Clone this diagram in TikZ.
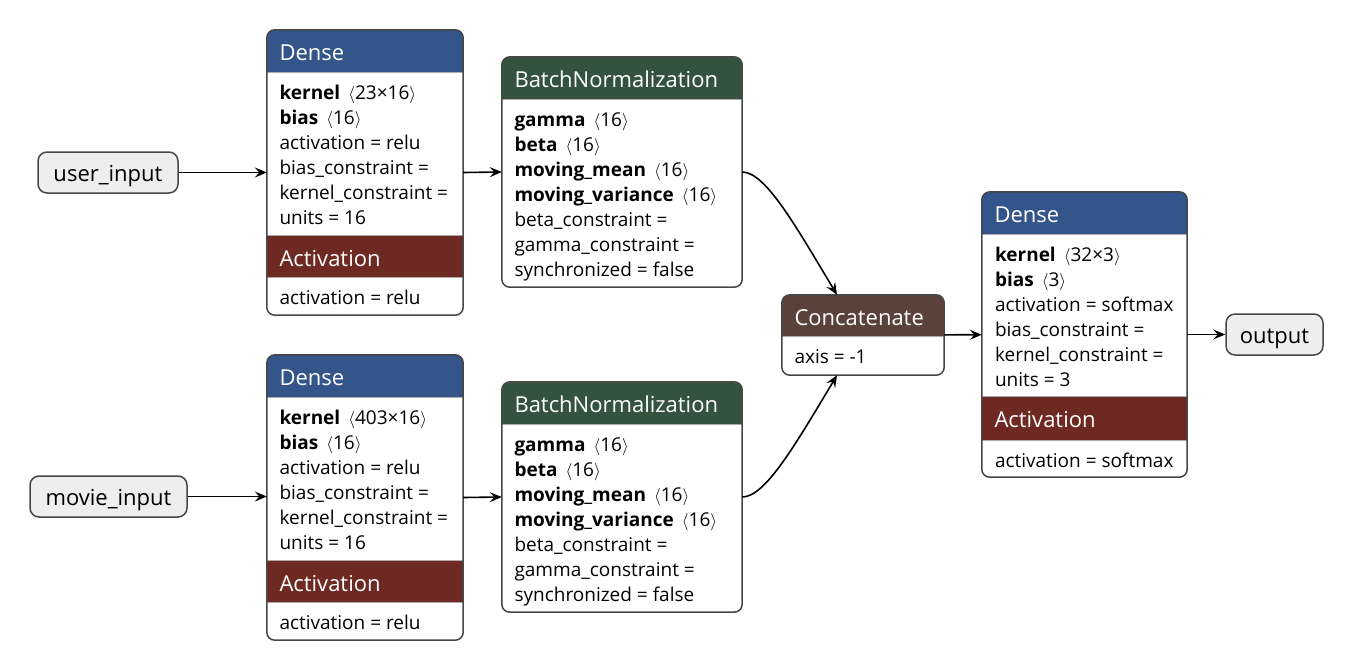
\documentclass[tikz,border=0pt]{standalone}
\usepackage{fontspec}
\setmainfont{Open Sans}
\usetikzlibrary{arrows.meta,positioning,calc}
\definecolor{DenseBlue}{HTML}{33558A}
\definecolor{NormGreen}{HTML}{33533F}
\definecolor{ActRed}{HTML}{6E2A22}
\definecolor{CatBrown}{HTML}{5A423A}
\definecolor{Frame}{HTML}{474747}
\definecolor{InFill}{HTML}{EEEEEE}

\begin{document}
\begin{tikzpicture}[x=1pt,y=-1pt,
  frame/.style={draw=Frame,line width=1.5pt,rounded corners=8pt},
  sepline/.style={draw=Frame!45,line width=0.8pt},
  io/.style={draw=Frame,fill=InFill,line width=1.5pt,rounded corners=9pt,minimum height=41pt,inner sep=0pt,text height=17pt,text depth=0pt,font=\fontsize{22}{26}\selectfont},
  head/.style={anchor=base west,text=white,inner sep=0pt,font=\fontsize{22}{26}\selectfont},
  prop/.style={anchor=base west,inner sep=0pt,font=\fontsize{19}{25}\selectfont},
  link/.style={-{Stealth[length=12pt,width=10pt,inset=4.5pt]},line width=1.6pt}]
\useasboundingbox (0,0) rectangle (1354,670);
% inputs and output
\node[io,minimum width=140] (user) at (108,172.5) {user\_input};
\node[io,minimum width=157] (movie) at (108.5,496.5) {movie\_input};
\node[io,minimum width=97] (output) at (1274.5,334.5) {output};
% layer boxes
\foreach \n/\x/\y/\w/\h in {dense1/365/172.5/196/285,dense2/365/497.5/196/285,norm1/622/172/240/230,norm2/622/497/240/230,concat/863/335/162/80,dense3/1084.5/334.5/205/285}
  \node[minimum width=\w,minimum height=\h,inner sep=0pt] (\n) at (\x,\y) {};
\foreach \n/\c/\a/\b in {dense1/DenseBlue/0/43,dense1/ActRed/206/248,dense2/DenseBlue/0/43,dense2/ActRed/206/248,dense3/DenseBlue/0/43,dense3/ActRed/205/249,norm1/NormGreen/0/43,norm2/NormGreen/0/43,concat/CatBrown/0/42} {
  \begin{scope}
    \clip[rounded corners=8pt] (\n.north west) rectangle (\n.south east);
    \fill[\c] ($(\n.north west)+(0,\a)$) rectangle ($(\n.north east)+(0,\b)$);
    \draw[sepline] ($(\n.north west)+(0,\a)$) -- ($(\n.north east)+(0,\a)$);
    \draw[sepline] ($(\n.north west)+(0,\b)$) -- ($(\n.north east)+(0,\b)$);
  \end{scope}
}
\foreach \n in {dense1,dense2,dense3,norm1,norm2,concat}
  \draw[frame] (\n.north west) rectangle (\n.south east);
% titles
\foreach \n/\t in {dense1/Dense,dense2/Dense,dense3/Dense,norm1/BatchNormalization,norm2/BatchNormalization,concat/Concatenate}
  \node[head] (\n-head) at ($(\n.north west)+(12.5,30.5)$) {\t};
\foreach \n/\d in {dense1/0,dense2/0,dense3/-1}
  \node[head] (\n-act) at ($(\n.north west)+(12.5,236.5+\d)$) {Activation};
% properties
\foreach \s [count=\i] in {{\textbf{kernel}\ \,$\langle$23×16$\rangle$},{\textbf{bias}\ \,$\langle$16$\rangle$},activation = relu,bias\_constraint =,kernel\_constraint =,units = 16}
  \node[prop] (dense1-p\i) at ($(dense1.north west)+(12.5,45+25*\i)$) {\s};
\node[prop] (dense1-q) at ($(dense1.north west)+(12.5,275)$) {activation = relu};
\foreach \s [count=\i] in {{\textbf{kernel}\ \,$\langle$403×16$\rangle$},{\textbf{bias}\ \,$\langle$16$\rangle$},activation = relu,bias\_constraint =,kernel\_constraint =,units = 16}
  \node[prop] (dense2-p\i) at ($(dense2.north west)+(12.5,45+25*\i)$) {\s};
\node[prop] (dense2-q) at ($(dense2.north west)+(12.5,275)$) {activation = relu};
\foreach \n in {norm1,norm2}
  \foreach \s [count=\i] in {{\textbf{gamma}\ \,$\langle$16$\rangle$},{\textbf{beta}\ \,$\langle$16$\rangle$},{\textbf{moving\_mean}\ \,$\langle$16$\rangle$},{\textbf{moving\_variance}\ \,$\langle$16$\rangle$},beta\_constraint =,gamma\_constraint =,synchronized = false}
    \node[prop] (\n-p\i) at ($(\n.north west)+(12.5,45+25*\i)$) {\s};
\node[prop] (concat-p1) at ($(concat.north west)+(12.5,69)$) {axis = -1};
\foreach \s [count=\i] in {{\textbf{kernel}\ \,$\langle$32×3$\rangle$},{\textbf{bias}\ \,$\langle$3$\rangle$},activation = softmax,bias\_constraint =,kernel\_constraint =,units = 3}
  \node[prop] (dense3-p\i) at ($(dense3.north west)+(13,45+25*\i)$) {\s};
\node[prop] (dense3-q) at ($(dense3.north west)+(13,276)$) {activation = softmax};
% connectors
\draw[link] (user) -- (dense1);
\draw[link] (movie.east) -- (dense2.west |- movie.east);
\draw[link] (dense1.east) -- (norm1.west);
\draw[link] (dense2.east) -- (norm2.west);
\draw[link] (norm1.east) .. controls +(23,0) and +(-42,-70) .. ([xshift=-26pt]concat.north);
\draw[link] (norm2.east) .. controls +(23,0) and +(-42,70) .. ([xshift=-26pt]concat.south);
\draw[link] (concat) -- (dense3);
\draw[link] (dense3) -- (output);
\end{tikzpicture}
\end{document}
